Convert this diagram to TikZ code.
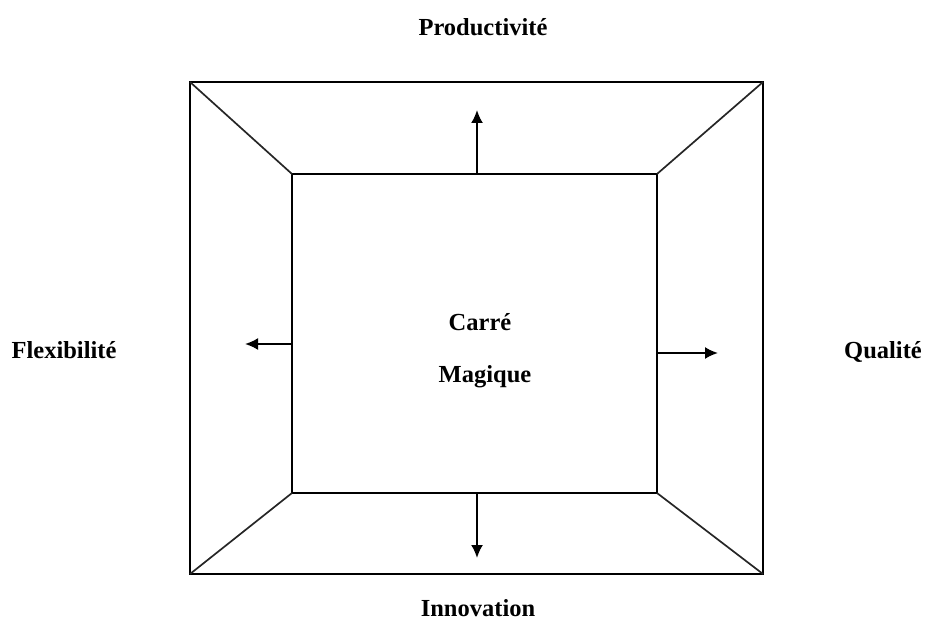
\documentclass[tikz,border=0pt]{standalone}
\usepackage{fontspec}
\setmainfont{Liberation Serif}
\usetikzlibrary{arrows.meta}
\begin{document}
\begin{tikzpicture}[x={(1pt,0)}, y={(0,-1pt)},
  frame/.style={draw=black, line width=2pt, inner sep=0pt, outer sep=0pt},
  bevel/.style={draw=black!85, line width=1.7pt},
  arr/.style={draw=black, line width=2pt, -{Latex[length=13pt,width=12pt]}},
  lbl/.style={font=\fontsize{24.5}{29}\selectfont\bfseries, anchor=base, inner sep=0pt}]
  \useasboundingbox (0,0) rectangle (926,631);
  % outer frame and inner square
  \node[frame, minimum width=573pt, minimum height=492pt] (outer) at (476.5,328) {};
  \node[frame, minimum width=365pt, minimum height=319pt] (inner) at (474.5,333.5) {};
  % bevel edges joining the corners
  \draw[bevel] (outer.north west) -- (inner.north west);
  \draw[bevel] (outer.north east) -- (inner.north east);
  \draw[bevel] (outer.south west) -- (inner.south west);
  \draw[bevel] (outer.south east) -- (inner.south east);
  % arrow tips
  \coordinate (tipT) at (477,110);
  \coordinate (tipB) at (477,558);
  \coordinate (tipL) at (245,344);
  \coordinate (tipR) at (718,353);
  \draw[arr] (inner.north -| tipT) -- (tipT);
  \draw[arr] (inner.south -| tipB) -- (tipB);
  \draw[arr] (inner.west |- tipL) -- (tipL);
  \draw[arr] (inner.east |- tipR) -- (tipR);
  % labels
  \node[lbl] (prod) at (483,36) {Productivité};
  \node[lbl] (flex) at (64,358) {Flexibilité};
  \node[lbl] (qual) at (883,358) {Qualité};
  \node[lbl] (inno) at (478,616) {Innovation};
  \node[lbl] (carre) at (480,330) {Carré};
  \node[lbl] (magique) at (485,382) {Magique};
\end{tikzpicture}
\end{document}
